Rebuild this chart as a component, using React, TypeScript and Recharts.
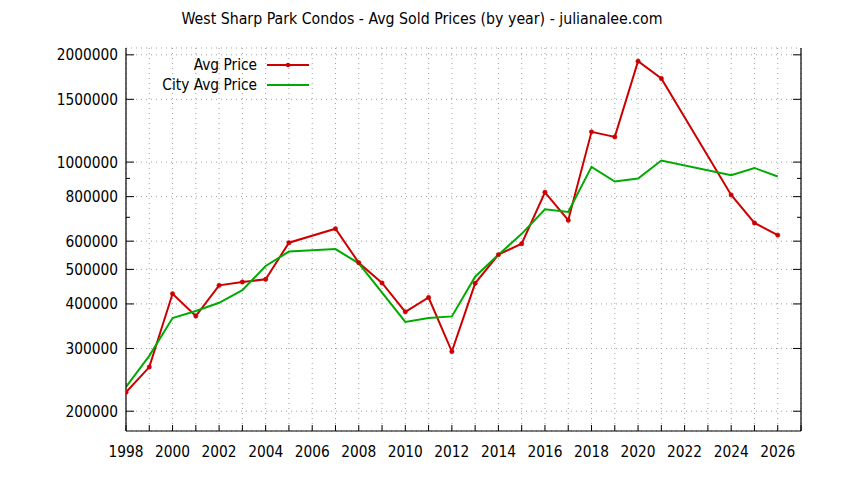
import React from "react";
import {
  LineChart,
  Line,
  XAxis,
  YAxis,
  CartesianGrid,
  Legend,
} from "recharts";

const years = [
  1998, 1999, 2000, 2001, 2002, 2003, 2004, 2005, 2006, 2007, 2008, 2009,
  2010, 2011, 2012, 2013, 2014, 2015, 2016, 2017, 2018, 2019, 2020, 2021,
  2022, 2023, 2024, 2025, 2026,
];

const avgPrice: (number | null)[] = [
  226000, 266000, 427000, 370000, 451000, 461000, 469000, 594000, null, 650000,
  522000, 458000, 380000, 417000, 294000, 457000, 550000, 590000, 823000,
  687000, 1216000, 1177000, 1920000, 1716000, null, null, 809000, 675000,
  624000,
];

const cityAvgPrice: (number | null)[] = [
  234000, 286000, 365000, 382000, 403000, 437000, 511000, 561000, null, 570000,
  520000, null, 356000, 365000, 369000, 477000, 550000, 629000, 737000,
  725000, 970000, 882000, 899000, 1010000, null, null, 919000, 963000, 911000,
];

const xTicks = [
  1998, 1999, 2000, 2001, 2002, 2003, 2004, 2005, 2006, 2007, 2008, 2009,
  2010, 2011, 2012, 2013, 2014, 2015, 2016, 2017, 2018, 2019, 2020, 2021,
  2022, 2023, 2024, 2025, 2026, 2027,
];
const yMajorTicks = [
  200000, 300000, 400000, 500000, 600000, 800000, 1000000, 1500000, 2000000,
];
const yAllTicks = [
  200000, 300000, 400000, 500000, 600000, 700000, 800000, 900000, 1000000,
  1500000, 2000000,
];

const title =
  "West Sharp Park Condos - Avg Sold Prices (by year) - julianalee.com";

const data = years.map((year, i) => ({
  year,
  avg: avgPrice[i],
  city: cityAvgPrice[i],
}));

const RED = "#cc0000";
const GREEN = "#00aa00";
const FONT = "'DejaVu Sans', sans-serif";
const FS = 15.3;
const TITLE_FS = 15.75;
const Y_DOMAIN = [176000, 2090000];
const X_DOMAIN = [1998, 2027];

const textStyle: React.CSSProperties = {
  fontFamily: FONT,
  fontStretch: "condensed",
};

const LeftTick = (props: any) => {
  const { x, y, payload } = props;
  const major = yMajorTicks.includes(payload.value);
  return (
    <g>
      <line x1={x + 8} x2={x + 8 + (major ? 8 : 4)} y1={y} y2={y} stroke="#000" strokeWidth={1} />
      {major && (
        <text x={x} y={y} dy="0.36em" textAnchor="end" fontSize={FS} fill="#000" style={textStyle}>
          {payload.value}
        </text>
      )}
    </g>
  );
};

const RightTick = (props: any) => {
  const { x, y, payload } = props;
  const major = yMajorTicks.includes(payload.value);
  return <line x1={x} x2={x - (major ? 8 : 4)} y1={y} y2={y} stroke="#000" strokeWidth={1} />;
};

const BottomTick = (props: any) => {
  const { x, y, payload } = props;
  const labeled = payload.value % 2 === 0 && payload.value <= 2026;
  return (
    <g>
      <line x1={x} x2={x} y1={y} y2={y - 6} stroke="#000" strokeWidth={1} />
      {labeled && (
        <text x={x} y={y + 25.5} textAnchor="middle" fontSize={FS} fill="#000" style={textStyle}>
          {payload.value}
        </text>
      )}
    </g>
  );
};

const TopTick = (props: any) => {
  const { x, y } = props;
  return <line x1={x} x2={x} y1={y} y2={y + 6} stroke="#000" strokeWidth={1} />;
};

const LegendContent = (props: any) => {
  const { payload } = props;
  return (
    <div style={{ ...textStyle, fontSize: FS }}>
      {(payload || []).map((p: any) => (
        <div key={p.value} style={{ display: "flex", alignItems: "center", height: 20 }}>
          <span style={{ width: 250, textAlign: "right", display: "inline-block", lineHeight: "20px" }}>
            {p.value}
          </span>
          <svg width={52} height={12}>
            <line x1={10} x2={52} y1={6} y2={6} stroke={p.color} strokeWidth={2} />
            {p.dataKey === "avg" && <circle cx={31} cy={6} r={2.2} fill={p.color} />}
          </svg>
        </div>
      ))}
    </div>
  );
};

export default function App() {
  return (
    <div style={{ position: "absolute", left: 0, top: 0, width: 844, height: 480, background: "#fff" }}>
      <div
        style={{
          position: "absolute",
          left: 0,
          top: 9,
          width: 844,
          textAlign: "center",
          fontSize: TITLE_FS,
          lineHeight: "20px",
          ...textStyle,
          color: "#000",
        }}
      >
        {title}
      </div>
      <LineChart
        width={844}
        height={480}
        data={data}
        margin={{ top: 48, right: 0, bottom: 0, left: 0 }}
      >
        <CartesianGrid
          xAxisId="bottom"
          yAxisId="grid"
          stroke="#a0a0a0"
          strokeDasharray="1 4"
          strokeWidth={1}
        />
        <XAxis
          xAxisId="bottom"
          dataKey="year"
          type="number"
          domain={X_DOMAIN}
          ticks={xTicks}
          interval={0}
          allowDataOverflow
          height={49}
          tickSize={0}
          tickMargin={0}
          tickLine={false}
          tick={<BottomTick />}
          axisLine={{ stroke: "#000", strokeWidth: 1.2 }}
        />
        <XAxis
          xAxisId="top"
          dataKey="year"
          type="number"
          orientation="top"
          domain={X_DOMAIN}
          ticks={xTicks}
          interval={0}
          allowDataOverflow
          height={0}
          tickSize={0}
          tickMargin={0}
          tickLine={false}
          tick={<TopTick />}
          axisLine={{ stroke: "#000", strokeWidth: 1.2 }}
        />
        <YAxis
          yAxisId="left"
          type="number"
          scale="log"
          domain={Y_DOMAIN}
          ticks={yAllTicks}
          interval={0}
          allowDataOverflow
          width={126}
          tickSize={0}
          tickMargin={8}
          tickLine={false}
          tick={<LeftTick />}
          axisLine={{ stroke: "#000", strokeWidth: 1.2 }}
        />
        <YAxis
          yAxisId="right"
          orientation="right"
          type="number"
          scale="log"
          domain={Y_DOMAIN}
          ticks={yAllTicks}
          interval={0}
          allowDataOverflow
          width={43}
          tickSize={0}
          tickMargin={0}
          tickLine={false}
          tick={<RightTick />}
          axisLine={{ stroke: "#000", strokeWidth: 1.2 }}
        />
        <YAxis
          yAxisId="grid"
          orientation="right"
          type="number"
          scale="log"
          domain={Y_DOMAIN}
          ticks={yMajorTicks}
          interval={0}
          allowDataOverflow
          width={0}
          hide
        />
        <Legend
          verticalAlign="middle"
          align="center"
          layout="vertical"
          content={<LegendContent />}
          wrapperStyle={{ position: "absolute", left: 7, top: 55, width: 320, height: 40 }}
        />
        <Line
          xAxisId="bottom"
          yAxisId="left"
          type="linear"
          dataKey="avg"
          name="Avg Price"
          stroke={RED}
          strokeWidth={2}
          dot={{ r: 2.2, fill: RED, stroke: RED, strokeWidth: 0.5 }}
          activeDot={false}
          connectNulls
          isAnimationActive={false}
        />
        <Line
          xAxisId="bottom"
          yAxisId="left"
          type="linear"
          dataKey="city"
          name="City Avg Price"
          stroke={GREEN}
          strokeWidth={2}
          dot={false}
          activeDot={false}
          connectNulls
          isAnimationActive={false}
        />
      </LineChart>
    </div>
  );
}
